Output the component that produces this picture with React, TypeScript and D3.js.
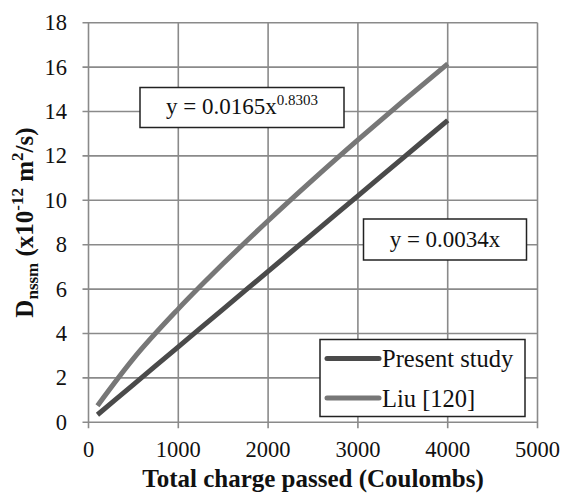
import * as d3 from "d3";

// values
const charge = [100, 500, 1000, 1500, 2000, 2500, 3000, 3500, 4000];
const presentStudy = [0.34, 1.7, 3.4, 5.1, 6.8, 8.5, 10.2, 11.9, 13.6];
const liu = [0.75, 2.87, 5.11, 7.15, 9.08, 10.93, 12.72, 14.46, 16.15];
const xTicks = [0, 1000, 2000, 3000, 4000, 5000];
const yTicks = [0, 2, 4, 6, 8, 10, 12, 14, 16, 18];
const seriesNames = ["Present study", "Liu [120]"];
const seriesColors = ["#4a4a4a", "#777777"];

const W = 565;
const H = 493;
const left = 88.5;
const right = 537.5;
const top = 22.7;
const bottom = 422.3;
const font = "Liberation Serif, Times New Roman, DejaVu Serif, serif";
const grid = "#8a8a8a";

export default function App() {
  const x = d3.scaleLinear().domain([0, 5000]).range([left, right]);
  const y = d3.scaleLinear().domain([0, 18]).range([bottom, top]);

  const line = d3
    .line<[number, number]>()
    .x((d) => x(d[0]))
    .y((d) => y(d[1]))
    .curve(d3.curveMonotoneX);

  const series = [presentStudy, liu].map((vals) =>
    charge.map((c, i) => [c, vals[i]] as [number, number])
  );

  return (
    <svg
      width={W}
      height={H}
      style={{ position: "absolute", left: 0, top: 0, background: "#fff", fontFamily: font }}
    >
      {/* grid + ticks */}
      {yTicks.map((t) => (
        <g key={"y" + t}>
          <line x1={left - 6} x2={right} y1={y(t)} y2={y(t)} stroke={grid} strokeWidth={1.6} />
          <text x={67} y={y(t) + 7.5} fontSize={22.5} textAnchor="end" fill="#111">
            {t}
          </text>
        </g>
      ))}
      {xTicks.map((t) => (
        <g key={"x" + t}>
          <line x1={x(t)} x2={x(t)} y1={top} y2={bottom + 6} stroke={grid} strokeWidth={1.6} />
          <text x={x(t)} y={457} fontSize={22.5} textAnchor="middle" fill="#111">
            {t}
          </text>
        </g>
      ))}

      {/* series */}
      {series.map((s, i) => (
        <path
          key={seriesNames[i]}
          d={line(s) ?? ""}
          fill="none"
          stroke={seriesColors[i]}
          strokeWidth={5}
        />
      ))}

      {/* trendline equations */}
      <rect x={140} y={87.5} width={204} height={40} fill="#fff" stroke="#222" strokeWidth={1.5} />
      <text x={242} y={114} fontSize={23} textAnchor="middle" fill="#111">
        y = 0.0165x
        <tspan fontSize={15} dy={-9}>0.8303</tspan>
      </text>
      <rect x={363.5} y={219} width={163} height={41} fill="#fff" stroke="#222" strokeWidth={1.5} />
      <text x={445} y={247} fontSize={23} textAnchor="middle" fill="#111">
        y = 0.0034x
      </text>

      {/* legend */}
      <rect x={320} y={339.5} width={205} height={77} fill="#fff" stroke="#222" strokeWidth={1.5} />
      {seriesNames.map((n, i) => (
        <g key={n} transform={`translate(0, ${358.5 + i * 39.5})`}>
          <line x1={327} x2={379} y1={0} y2={0} stroke={seriesColors[i]} strokeWidth={5} strokeLinecap="round" />
          <text x={382} y={8.5} fontSize={24.5} fill="#111">
            {n}
          </text>
        </g>
      ))}

      {/* axis titles */}
      <text
        x={(left + right) / 2}
        y={487}
        fontSize={25}
        fontWeight="bold"
        textAnchor="middle"
        fill="#111"
      >
        Total charge passed (Coulombs)
      </text>
      <text
        transform={`translate(33, ${(top + bottom) / 2}) rotate(-90)`}
        fontSize={25}
        fontWeight="bold"
        textAnchor="middle"
        fill="#111"
      >
        D
        <tspan fontSize={17} dy={5}>nssm</tspan>
        <tspan dy={-5}> (x10</tspan>
        <tspan fontSize={17} dy={-10}>-12</tspan>
        <tspan dy={10}> m</tspan>
        <tspan fontSize={17} dy={-10}>2</tspan>
        <tspan dy={10}>/s)</tspan>
      </text>
    </svg>
  );
}
